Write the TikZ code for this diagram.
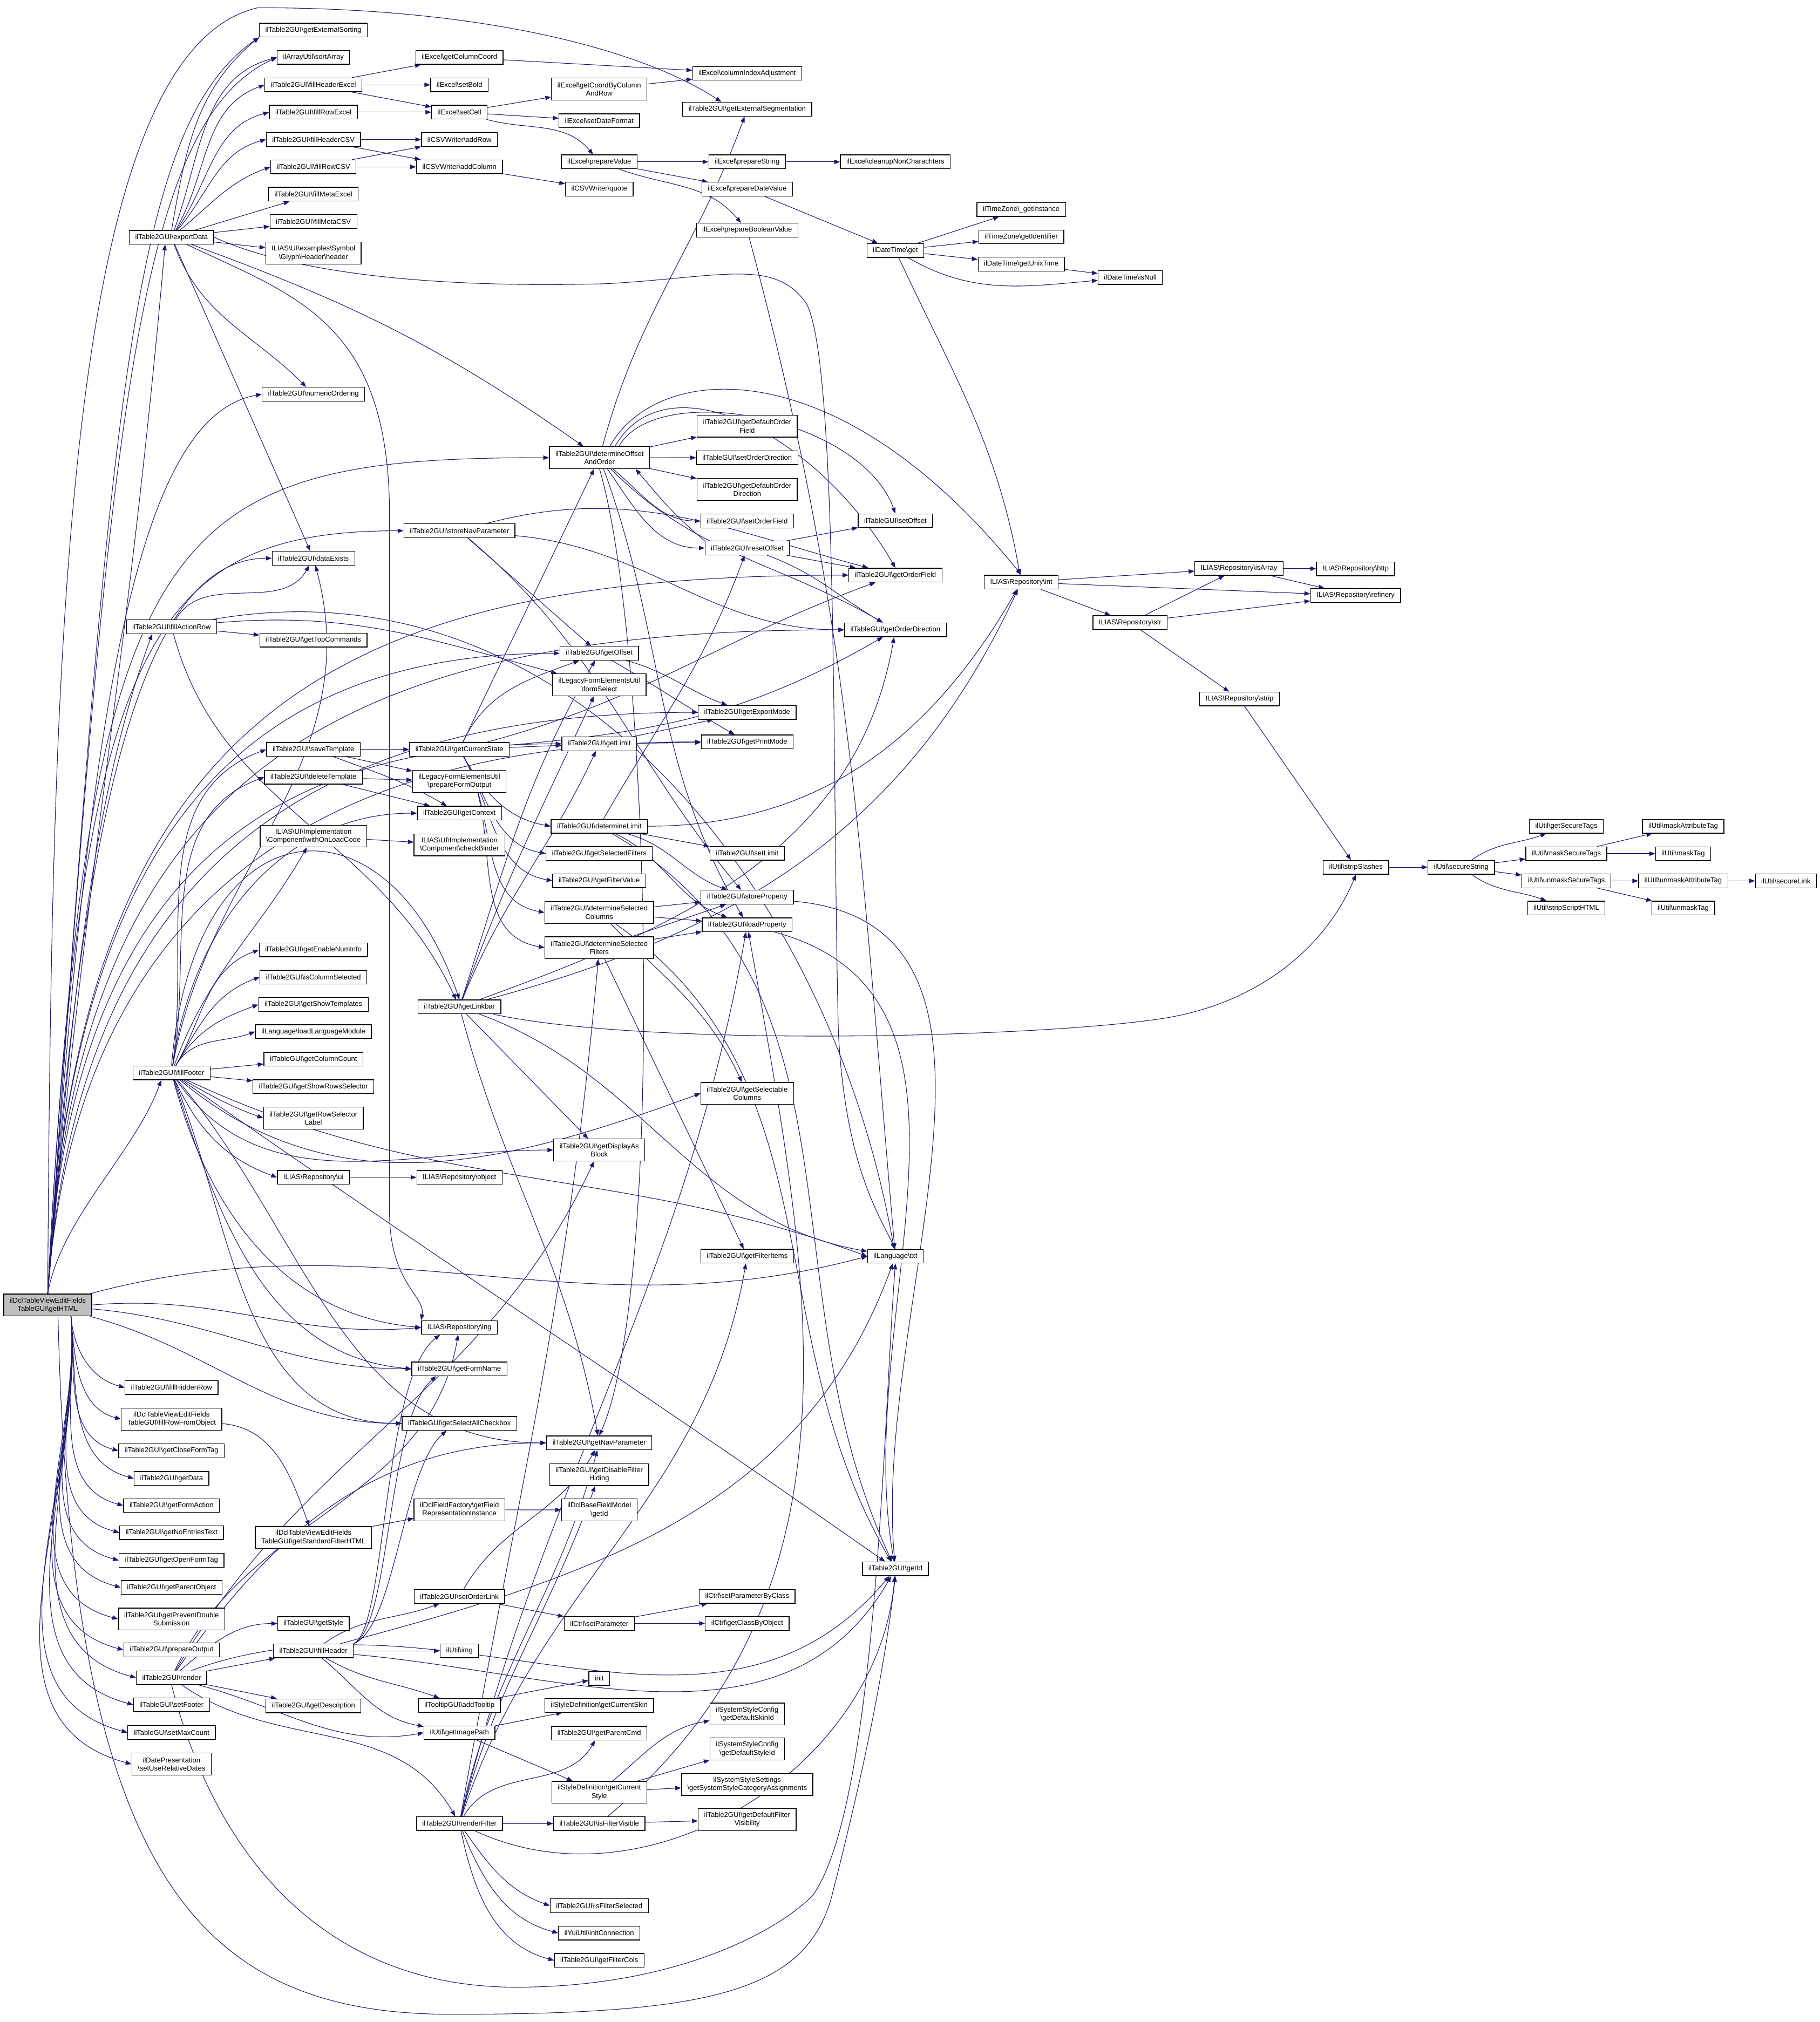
\documentclass[tikz,border=0pt]{standalone}
\usepackage{fontspec}
\setmainfont{Liberation Sans}
\usetikzlibrary{arrows.meta}
\pgfdeclarelayer{bg}
\pgfsetlayers{bg,main}
\definecolor{edgec}{RGB}{25,25,112}
\definecolor{rootfill}{RGB}{191,191,191}
\newcommand{\bsl}{\textbackslash}
\newcommand{\nfs}{\fontsize{5.45pt}{6.4pt}\selectfont}
\begin{document}
\begin{tikzpicture}[x=1pt,y=-1pt,
 nd/.style={draw=black,line width=0.55pt,fill=white,inner xsep=4.6pt,inner ysep=0pt,minimum height=10.7pt,font=\nfs,align=center},
 nd2/.style={nd,minimum height=17pt},
 cx/.style={draw=edgec,line width=0.45pt,-{Triangle[length=4.5pt,width=3.4pt]}}]
\useasboundingbox (0,0) rectangle (1411,1568);
% ---------- nodes ----------
\node[nd2,fill=rootfill] (root) at (37,1012) {ilDclTableViewEditFields\\TableGUI\bsl getHTML};
% column B
\node[nd] (exp) at (133,184) {ilTable2GUI\bsl exportData};
\node[nd] (far) at (133,486) {ilTable2GUI\bsl fillActionRow};
\node[nd] (ffo) at (133,832) {ilTable2GUI\bsl fillFooter};
\node[nd] (fhr) at (133,1076) {ilTable2GUI\bsl fillHiddenRow};
\node[nd2] (frfo) at (133,1100.5) {ilDclTableViewEditFields\\TableGUI\bsl fillRowFromObject};
\node[nd] (gcft) at (133,1125) {ilTable2GUI\bsl getCloseFormTag};
\node[nd] (gdat) at (133,1146.5) {ilTable2GUI\bsl getData};
\node[nd] (gfa) at (133,1167.5) {ilTable2GUI\bsl getFormAction};
\node[nd] (gnet) at (133,1188.5) {ilTable2GUI\bsl getNoEntriesText};
\node[nd] (goft) at (133,1210) {ilTable2GUI\bsl getOpenFormTag};
\node[nd] (gpo) at (133,1231) {ilTable2GUI\bsl getParentObject};
\node[nd2] (gpds) at (133,1255.5) {ilTable2GUI\bsl getPreventDouble\\Submission};
\node[nd] (pout) at (133,1279.5) {ilTable2GUI\bsl prepareOutput};
\node[nd] (rnd) at (133,1301) {ilTable2GUI\bsl render};
\node[nd] (sft) at (133,1322) {ilTableGUI\bsl setFooter};
\node[nd] (smc) at (133,1343.5) {ilTableGUI\bsl setMaxCount};
\node[nd2] (surd) at (133,1368) {ilDatePresentation\\\bsl setUseRelativeDates};
% column C
\node[nd] (ges) at (243,23.3) {ilTable2GUI\bsl getExternalSorting};
\node[nd] (sa) at (243,44.5) {ilArrayUtil\bsl sortArray};
\node[nd] (fhe) at (243,65.8) {ilTable2GUI\bsl fillHeaderExcel};
\node[nd] (fre) at (243,87) {ilTable2GUI\bsl fillRowExcel};
\node[nd] (fhc) at (243,108.2) {ilTable2GUI\bsl fillHeaderCSV};
\node[nd] (frc) at (243,129.4) {ilTable2GUI\bsl fillRowCSV};
\node[nd] (fme) at (243,150.6) {ilTable2GUI\bsl fillMetaExcel};
\node[nd] (fmc) at (243,171.8) {ilTable2GUI\bsl fillMetaCSV};
\node[nd2] (hdr) at (243,196.3) {ILIAS\bsl UI\bsl examples\bsl Symbol\\\bsl Glyph\bsl Header\bsl header};
\node[nd] (num) at (243,305.7) {ilTable2GUI\bsl numericOrdering};
\node[nd] (dex) at (243,432.9) {ilTable2GUI\bsl dataExists};
\node[nd] (gtc) at (243,496.4) {ilTable2GUI\bsl getTopCommands};
\node[nd] (svt) at (243,581.2) {ilTable2GUI\bsl saveTemplate};
\node[nd] (dlt) at (243,602.7) {ilTable2GUI\bsl deleteTemplate};
\node[nd2] (wolc) at (243,648.4) {ILIAS\bsl UI\bsl Implementation\\\bsl Component\bsl withOnLoadCode};
\node[nd] (geni) at (243,736.6) {ilTable2GUI\bsl getEnableNumInfo};
\node[nd] (icsel) at (243,757.7) {ilTable2GUI\bsl isColumnSelected};
\node[nd] (gst) at (243,779) {ilTable2GUI\bsl getShowTemplates};
\node[nd] (llm) at (243,800) {ilLanguage\bsl loadLanguageModule};
\node[nd] (gcol) at (243,821.4) {ilTableGUI\bsl getColumnCount};
\node[nd] (gsrs) at (243,842.7) {ilTable2GUI\bsl getShowRowsSelector};
\node[nd2] (grsl) at (243,867.1) {ilTable2GUI\bsl getRowSelector\\Label};
\node[nd] (ui) at (243,913) {ILIAS\bsl Repository\bsl ui};
\node[nd2] (gsfh) at (243,1192.3) {ilDclTableViewEditFields\\TableGUI\bsl getStandardFilterHTML};
\node[nd] (gsty) at (243,1259) {ilTableGUI\bsl getStyle};
\node[nd] (fhd) at (243,1280.2) {ilTable2GUI\bsl fillHeader};
\node[nd] (gdesc) at (243,1322.8) {ilTable2GUI\bsl getDescription};
% column D
\node[nd] (gcc) at (356.2,44.5) {ilExcel\bsl getColumnCoord};
\node[nd] (sbold) at (356.2,65.8) {ilExcel\bsl setBold};
\node[nd] (scell) at (356.2,87) {ilExcel\bsl setCell};
\node[nd] (arow) at (356.2,108.2) {ilCSVWriter\bsl addRow};
\node[nd] (acol) at (356.2,129.4) {ilCSVWriter\bsl addColumn};
\node[nd] (snp) at (356.2,411.6) {ilTable2GUI\bsl storeNavParameter};
\node[nd] (gcs) at (356.2,581.2) {ilTable2GUI\bsl getCurrentState};
\node[nd2] (pfo) at (356.2,605.9) {ilLegacyFormElementsUtil\\\bsl prepareFormOutput};
\node[nd] (gctx) at (356.2,630.6) {ilTable2GUI\bsl getContext};
\node[nd2] (cbind) at (356.2,655.2) {ILIAS\bsl UI\bsl Implementation\\\bsl Component\bsl checkBinder};
\node[nd] (glb) at (356.2,780.8) {ilTable2GUI\bsl getLinkbar};
\node[nd] (obj) at (356.2,913) {ILIAS\bsl Repository\bsl object};
\node[nd] (lng) at (356.2,1029.4) {ILIAS\bsl Repository\bsl lng};
\node[nd] (gfn) at (356.2,1061.5) {ilTable2GUI\bsl getFormName};
\node[nd] (gsac) at (356.2,1103.8) {ilTableGUI\bsl getSelectAllCheckbox};
\node[nd2] (gfri) at (356.2,1170.8) {ilDclFieldFactory\bsl getField\\RepresentationInstance};
\node[nd] (sol) at (356.2,1238) {ilTable2GUI\bsl setOrderLink};
\node[nd] (img) at (356.2,1280.2) {ilUtil\bsl img};
\node[nd] (atip) at (356.2,1322.5) {ilTooltipGUI\bsl addTooltip};
\node[nd] (gip) at (356.2,1343.7) {ilUtil\bsl getImagePath};
\node[nd] (rf) at (356.2,1414.1) {ilTable2GUI\bsl renderFilter};
% column E
\node[nd2] (gcbc) at (464.6,69.1) {ilExcel\bsl getCoordByColumn\\AndRow};
\node[nd] (sdf) at (464.6,93.7) {ilExcel\bsl setDateFormat};
\node[nd] (pval) at (464.6,125.5) {ilExcel\bsl prepareValue};
\node[nd] (quote) at (464.6,146.7) {ilCSVWriter\bsl quote};
\node[nd2] (doo) at (464.8,354.9) {ilTable2GUI\bsl determineOffset\\AndOrder};
\node[nd] (goff) at (464.6,506.6) {ilTable2GUI\bsl getOffset};
\node[nd2] (fsel) at (464.6,531) {ilLegacyFormElementsUtil\\\bsl formSelect};
\node[nd] (glim) at (464.6,576.8) {ilTable2GUI\bsl getLimit};
\node[nd] (dlim) at (464.6,640.7) {ilTable2GUI\bsl determineLimit};
\node[nd] (gsf) at (464.6,661.9) {ilTable2GUI\bsl getSelectedFilters};
\node[nd] (gfv) at (464.6,683) {ilTable2GUI\bsl getFilterValue};
\node[nd2] (dsc) at (464.6,707.6) {ilTable2GUI\bsl determineSelected\\Columns};
\node[nd2] (dsf) at (464.6,734.9) {ilTable2GUI\bsl determineSelected\\Filters};
\node[nd2] (gdab) at (464.6,891.8) {ilTable2GUI\bsl getDisplayAs\\Block};
\node[nd] (gnp) at (464.6,1118.9) {ilTable2GUI\bsl getNavParameter};
\node[nd2] (gdfh) at (464.6,1143.5) {ilTable2GUI\bsl getDisableFilter\\Hiding};
\node[nd2] (bfid) at (464.6,1170.9) {ilDclBaseFieldModel\\\bsl getId};
\node[nd] (spar) at (464.6,1258.9) {ilCtrl\bsl setParameter};
\node[nd] (init) at (464.6,1301.5) {init};
\node[nd] (gcsk) at (464.6,1322.5) {ilStyleDefinition\bsl getCurrentSkin};
\node[nd] (gpc) at (464.6,1344) {ilTable2GUI\bsl getParentCmd};
\node[nd2] (gcsty) at (464.6,1389.8) {ilStyleDefinition\bsl getCurrent\\Style};
\node[nd] (ifv) at (464.6,1414.1) {ilTable2GUI\bsl isFilterVisible};
\node[nd] (ifs) at (464.6,1477.8) {ilTable2GUI\bsl isFilterSelected};
\node[nd] (icon) at (464.6,1499) {ilYuiUtil\bsl initConnection};
\node[nd] (gfc) at (464.6,1520.2) {ilTable2GUI\bsl getFilterCols};
% column F
\node[nd] (cia) at (579.3,56.9) {ilExcel\bsl columnIndexAdjustment};
\node[nd] (gseg) at (579.3,84.7) {ilTable2GUI\bsl getExternalSegmentation};
\node[nd] (pstr) at (579.3,125.5) {ilExcel\bsl prepareString};
\node[nd] (pdv) at (579.3,146.7) {ilExcel\bsl prepareDateValue};
\node[nd] (pbv) at (579.3,178.5) {ilExcel\bsl prepareBooleanValue};
\node[nd2] (gdof) at (579.3,330.5) {ilTable2GUI\bsl getDefaultOrder\\Field};
\node[nd] (sod) at (579.3,355) {ilTableGUI\bsl setOrderDirection};
\node[nd2] (gdod) at (579.3,379.6) {ilTable2GUI\bsl getDefaultOrder\\Direction};
\node[nd] (sof) at (579.3,404) {ilTable2GUI\bsl setOrderField};
\node[nd] (roff) at (579.3,425) {ilTable2GUI\bsl resetOffset};
\node[nd] (gem) at (579.3,552.4) {ilTable2GUI\bsl getExportMode};
\node[nd] (gpm) at (579.3,575.3) {ilTable2GUI\bsl getPrintMode};
\node[nd] (slim) at (579.3,661.7) {ilTable2GUI\bsl setLimit};
\node[nd] (sprop) at (579.3,695.7) {ilTable2GUI\bsl storeProperty};
\node[nd] (lprop) at (579.3,717.1) {ilTable2GUI\bsl loadProperty};
\node[nd2] (gselc) at (579.3,847.9) {ilTable2GUI\bsl getSelectable\\Columns};
\node[nd] (gfi) at (579.3,974.1) {ilTable2GUI\bsl getFilterItems};
\node[nd] (spbc) at (579.3,1237.9) {ilCtrl\bsl setParameterByClass};
\node[nd] (gcbo) at (579.3,1258.9) {ilCtrl\bsl getClassByObject};
\node[nd2] (gdsk) at (579.3,1329.2) {ilSystemStyleConfig\\\bsl getDefaultSkinId};
\node[nd2] (gdst) at (579.3,1356.3) {ilSystemStyleConfig\\\bsl getDefaultStyleId};
\node[nd2] (gssca) at (579.3,1383.7) {ilSystemStyleSettings\\\bsl getSystemStyleCategoryAssignments};
\node[nd2] (gdfv) at (579.3,1411) {ilTable2GUI\bsl getDefaultFilter\\Visibility};
% column G
\node[nd] (cnc) at (694.2,125.5) {ilExcel\bsl cleanupNonCharachters};
\node[nd] (dtget) at (694.2,194.2) {ilDateTime\bsl get};
\node[nd] (soff) at (694.2,403.8) {ilTableGUI\bsl setOffset};
\node[nd] (gof) at (694.2,446) {ilTable2GUI\bsl getOrderField};
\node[nd] (godir) at (694.2,488.4) {ilTableGUI\bsl getOrderDirection};
\node[nd] (txt) at (694.2,974.2) {ilLanguage\bsl txt};
\node[nd] (gid) at (694.2,1216.6) {ilTable2GUI\bsl getId};
% right part
\node[nd] (tzi) at (791.8,162.5) {ilTimeZone\bsl\_getInstance};
\node[nd] (tzid) at (791.8,183.7) {ilTimeZone\bsl getIdentifier};
\node[nd] (gut) at (791.8,204.8) {ilDateTime\bsl getUnixTime};
\node[nd] (int) at (791.8,451.4) {ILIAS\bsl Repository\bsl int};
\node[nd] (isnull) at (876.3,215.2) {ilDateTime\bsl isNull};
\node[nd] (str) at (876.2,482.8) {ILIAS\bsl Repository\bsl str};
\node[nd] (isarr) at (960.6,440.7) {ILIAS\bsl Repository\bsl isArray};
\node[nd] (strip) at (961,542) {ILIAS\bsl Repository\bsl strip};
\node[nd] (http) at (1051,441.1) {ILIAS\bsl Repository\bsl http};
\node[nd] (ref) at (1051,461.8) {ILIAS\bsl Repository\bsl refinery};
\node[nd] (sslash) at (1051.3,672.5) {ilUtil\bsl stripSlashes};
\node[nd] (sstr) at (1132.9,672.5) {ilUtil\bsl secureString};
\node[nd] (gsect) at (1214.4,640.7) {ilUtil\bsl getSecureTags};
\node[nd] (mst) at (1214.4,662) {ilUtil\bsl maskSecureTags};
\node[nd] (ust) at (1214.4,683.1) {ilUtil\bsl unmaskSecureTags};
\node[nd] (ssh) at (1214.4,704.2) {ilUtil\bsl stripScriptHTML};
\node[nd] (mat) at (1305,640.7) {ilUtil\bsl maskAttributeTag};
\node[nd] (mtag) at (1305,662) {ilUtil\bsl maskTag};
\node[nd] (uat) at (1305,683.1) {ilUtil\bsl unmaskAttributeTag};
\node[nd] (utag) at (1305,704.2) {ilUtil\bsl unmaskTag};
\node[nd] (slink) at (1384.6,683.1) {ilUtil\bsl secureLink};
% ---------- edges ----------
\begin{pgfonlayer}{bg}
\fill[white] (0,0) rectangle (1411,1568);
% root
\draw[cx] (root.north) to[out=85,in=265] ([xshift=-5pt]exp.south);
\draw[cx] (root.north) .. controls +(86:700pt) and +(215:120pt) .. (ges.south west);
\draw[cx] (root.north) .. controls +(86:680pt) and +(205:120pt) .. (sa.west);
\draw[cx] (root.north) .. controls (40,500) and (50,40) .. (200,6) .. controls (380,6) and (500,40) .. ([xshift=-20pt]gseg.north);
\draw[cx] (root.north) .. controls +(86:450pt) and +(190:100pt) .. (num.west);
\draw[cx] (root.north) .. controls +(86:380pt) and +(180:100pt) .. (dex.west);
\draw[cx] (root.north) .. controls +(87:600pt) and +(180:300pt) .. (doo.west);
\draw[cx] (root.north) .. controls +(87:500pt) and +(180:200pt) .. (snp.west);
\draw[cx] (root.north) .. controls +(85:200pt) and +(250:150pt) .. ([xshift=-15pt]far.south);
\draw[cx] (root.north) .. controls +(80:60pt) and +(250:60pt) .. ([xshift=-8pt]ffo.south);
\draw[cx] (root.north) .. controls +(87:350pt) and +(180:250pt) .. (goff.west);
\draw[cx] (root.north) .. controls +(87:300pt) and +(180:250pt) .. (glim.west);
\draw[cx] (root.north) .. controls +(86:330pt) and +(180:300pt) .. (gem.west);
\draw[cx] (root.north) .. controls +(86:300pt) and +(180:300pt) .. (gpm.west);
\draw[cx] (root.north) .. controls +(87:450pt) and +(180:400pt) .. (gof.west);
\draw[cx] (root.north) .. controls +(87:400pt) and +(180:400pt) .. (godir.west);
\foreach \nn in {fhr,frfo,gcft,gdat,gfa,gnet,goft,gpo,gpds,pout,rnd,sft,smc,surd}
  \draw[cx] ([xshift=18pt]root.south) to[out=-85,in=165] (\nn.west);
\draw[cx] (root.east) to[out=5,in=185] (lng.west);
\draw[cx] (root) to[out=-5,in=180] (gfn.west);
\draw[cx] (root) to[out=-15,in=180] (gsac.west);
\draw[cx] (root) to[out=15,in=195] (txt.west);
\draw[cx] ([xshift=8pt]root.south) .. controls (55,1450) and (150,1562) .. (350,1562) .. controls (550,1562) and (625,1545) .. (645,1470) .. controls (668,1380) and (685,1300) .. (gid.south);
% exportData
\draw[cx] (exp.north) to[out=80,in=220] (ges.south west);
\draw[cx] (exp) to[out=70,in=195] (sa.west);
\draw[cx] (exp) to[out=60,in=200] (fhe.west);
\draw[cx] (exp) to[out=55,in=195] (fre.west);
\draw[cx] (exp) to[out=50,in=195] (fhc.west);
\draw[cx] (exp) to[out=40,in=200] (frc.west);
\draw[cx] (exp) -- (fme);
\draw[cx] (exp) -- (fmc);
\draw[cx] (exp) -- (hdr);
\draw[cx] (exp) to[out=-70,in=135] (num);
\draw[cx] (exp) -- (dex);
\draw[cx] (exp) to[out=-20,in=145] (doo);
\draw[cx] (exp) .. controls (230,230) and (302,250) .. (302,400) -- (302,940) .. controls (302,995) and (330,1005) .. (lng.north west);
\draw[cx] (exp.east) .. controls (250,222) and (400,222) .. (470,220) .. controls (560,215) and (600,200) .. (625,235) .. controls (650,280) and (645,600) .. (650,800) .. controls (655,900) and (680,940) .. (txt.north);
% Excel / CSV
\draw[cx] (fhe) -- (gcc);
\draw[cx] (fhe) -- (sbold);
\draw[cx] (fhe) -- (scell);
\draw[cx] (fre) -- (scell);
\draw[cx] (fhc) -- (arow);
\draw[cx] (fhc) -- (acol);
\draw[cx] (frc) -- (arow);
\draw[cx] (frc) -- (acol);
\draw[cx] (gcc) -- (cia);
\draw[cx] (scell) -- (gcbc);
\draw[cx] (scell) -- (sdf);
\draw[cx] (scell) to[out=-15,in=130] (pval);
\draw[cx] (gcbc) -- (cia);
\draw[cx] (acol) -- (quote);
\draw[cx] (pval) -- (pstr);
\draw[cx] (pval) -- (pdv);
\draw[cx] (pval) to[out=-20,in=130] (pbv);
\draw[cx] (pstr) -- (cnc);
\draw[cx] (pdv) -- (dtget);
\draw[cx] (pbv) to[out=-75,in=95] (txt);
\draw[cx] (dtget) -- (tzi);
\draw[cx] (dtget) -- (tzid);
\draw[cx] (dtget) -- (gut);
\draw[cx] (dtget) to[out=-30,in=185] (isnull);
\draw[cx] (dtget) to[out=-65,in=100] (int);
\draw[cx] (gut) -- (isnull);
\draw[cx] (int) -- (isarr);
\draw[cx] (int) -- (ref);
\draw[cx] (int) -- (str);
\draw[cx] (isarr) -- (http);
\draw[cx] (isarr) -- (ref);
\draw[cx] (str) -- (isarr);
\draw[cx] (str) -- (ref);
\draw[cx] (str) -- (strip);
\draw[cx] (strip) -- (sslash);
\draw[cx] (sslash) -- (sstr);
\draw[cx] (sstr) to[out=35,in=200] (gsect);
\draw[cx] (sstr) -- (mst);
\draw[cx] (sstr) -- (ust);
\draw[cx] (sstr) to[out=-35,in=160] (ssh);
\draw[cx] (mst) -- (mat);
\draw[cx] (mst) -- (mtag);
\draw[cx] (ust) -- (uat);
\draw[cx] (ust) -- (utag);
\draw[cx] (uat) -- (slink);
% determineOffsetAndOrder
\draw[cx] (doo) to[out=75,in=250] (gseg);
\draw[cx] (doo) -- (gdof);
\draw[cx] (doo) -- (sod);
\draw[cx] (doo) -- (gdod);
\draw[cx] (doo) to[out=-40,in=180] (sof);
\draw[cx] (doo) to[out=-55,in=180] (roff);
\draw[cx] ([xshift=15pt]doo.north) .. controls +(60:60pt) and +(110:80pt) .. (soff.north);
\draw[cx] ([xshift=12pt]doo.north) .. controls +(60:80pt) and +(120:120pt) .. (gof.north);
\draw[cx] ([xshift=8pt]doo.north) .. controls (510,280) and (650,270) .. (int.north);
\draw[cx] (doo) to[out=-45,in=150] (godir);
\draw[cx] (doo.south) .. controls (505,500) and (515,1000) .. (gnp.north);
\draw[cx] (doo) to[out=-70,in=120] (lprop);
\draw[cx] (roff) -- (soff);
\draw[cx] (roff) -- (gof);
\draw[cx] (roff) to[out=-20,in=150] (godir);
\draw[cx] (roff.north west) to[out=140,in=-50] ([xshift=28pt]doo.south);
% storeNavParameter
\draw[cx] (snp) -- (goff);
\draw[cx] (snp) to[out=15,in=165] (gof);
\draw[cx] (snp) to[out=-5,in=180] (godir);
\draw[cx] (snp) to[out=-40,in=130] (sprop);
% fillActionRow
\draw[cx] (far) to[out=60,in=-120] (dex);
\draw[cx] (far) -- (gtc);
\draw[cx] (far) to[out=5,in=165] (fsel);
\draw[cx] (far) to[out=-75,in=115] (glb);
\draw[cx] (far) to[out=10,in=100] (txt);
% getCurrentState
\draw[cx] (gcs) -- (doo);
\draw[cx] (gcs) to[out=65,in=200] (goff);
\draw[cx] (gcs) -- (glim);
\draw[cx] (gcs) to[out=15,in=200] (gof);
\draw[cx] (gcs) to[out=5,in=210] (godir);
\foreach \nn in {dlim,gsf,gfv,dsc,dsf}
  \draw[cx] (gcs) to[out=-60,in=170] (\nn.west);
\draw[cx] (svt) -- (gcs);
\draw[cx] (svt) -- (pfo);
\draw[cx] (svt) to[out=-20,in=150] (gctx);
\draw[cx] (dlt) -- (pfo);
\draw[cx] (dlt) -- (gctx);
% fillFooter
\draw[cx] (ffo) to[out=80,in=-75] (dex);
\draw[cx] (ffo) to[out=82,in=200] (svt.west);
\draw[cx] (ffo) to[out=80,in=200] (dlt.west);
\draw[cx] (ffo) to[out=82,in=180] (gctx.west);
\draw[cx] (ffo) to[out=70,in=-120] (wolc);
\foreach \nn in {geni,icsel,gst,llm}
  \draw[cx] (ffo) to[out=60,in=200] (\nn.west);
\draw[cx] (ffo) -- (gcol);
\draw[cx] (ffo) -- (gsrs);
\draw[cx] (ffo) to[out=-30,in=160] (grsl.west);
\draw[cx] (ffo) to[out=-55,in=180] (gdab.west);
\draw[cx] (ffo) to[out=-65,in=160] (ui.west);
\draw[cx] (ffo.north) .. controls (150,620) and (300,610) .. (glb.north);
\draw[cx] (ffo) to[out=-40,in=200] (gselc.west);
\draw[cx] (ffo) to[out=-25,in=160] (txt.west);
\draw[cx] (ffo) to[out=-75,in=175] (lng.west);
\draw[cx] (ffo) to[out=-72,in=175] (gfn.west);
\draw[cx] (ffo) to[out=-68,in=180] (gsac.west);
\draw[cx] (ffo) to[out=-50,in=180] (gnp.west);
\draw[cx] (ffo) to[out=-35,in=145] (gid);
\draw[cx] (wolc) -- (cbind);
\draw[cx] (ui) -- (obj);
% getLinkbar
\draw[cx] (glb) to[out=70,in=-115] (fsel);
\draw[cx] (glb) to[out=72,in=-120] (goff);
\draw[cx] (glb) to[out=68,in=-115] (glim);
\draw[cx] (glb) to[out=20,in=-100] (godir);
\draw[cx] (glb) to[out=15,in=-115] (int);
\draw[cx] (glb) to[out=-75,in=100] (gnp);
\draw[cx] (glb) -- (gdab);
\draw[cx] (glb) to[out=-20,in=170] (txt);
\draw[cx] (glb) .. controls (500,812) and (800,805) .. (900,790) .. controls (980,778) and (1030,730) .. (sslash.south);
% offset / limit
\draw[cx] (goff) to[out=-15,in=160] (gem);
\draw[cx] (goff) to[out=-30,in=150] (gpm);
\draw[cx] (glim) -- (gem);
\draw[cx] (glim) -- (gpm);
\draw[cx] (dlim) to[out=60,in=-110] (roff);
\draw[cx] (dlim) -- (slim);
\draw[cx] (dlim) to[out=-15,in=160] (sprop);
\draw[cx] (dlim) to[out=-25,in=160] (lprop);
\draw[cx] (dlim) to[out=0,in=-120] (int);
\draw[cx] (dlim) to[out=-30,in=115] (gid);
\draw[cx] (dsc) -- (sprop);
\draw[cx] (dsc) -- (lprop);
\draw[cx] (dsc) to[out=-45,in=115] (gselc);
\draw[cx] (dsc) to[out=-35,in=120] (gid);
\draw[cx] (dsf) -- (sprop);
\draw[cx] (dsf) -- (lprop);
\draw[cx] (dsf) -- (gfi);
\draw[cx] (sprop) to[out=-5,in=95] (gid);
\draw[cx] (lprop) to[out=-15,in=100] (gid);
% dcl
\draw[cx] (frfo) to[out=-5,in=110] (gsfh);
\draw[cx] (gsfh) -- (gfri);
\draw[cx] (gfri) -- (bfid);
% render
\draw[cx] (rnd) to[out=40,in=180] (gsty.west);
\draw[cx] (rnd) -- (fhd);
\draw[cx] (rnd) -- (gdesc);
\draw[cx] (rnd) to[out=-15,in=190] (gip.west);
\draw[cx] (rnd) to[out=-35,in=120] (rf);
\draw[cx] (rnd) to[out=60,in=-115] (gdab);
\draw[cx] (rnd) to[out=55,in=180] (gnp.west);
\draw[cx] (rnd) to[out=65,in=-100] (lng);
\draw[cx] (rnd) to[out=20,in=-130] (gid);
\draw[cx] (rnd.south) .. controls (170,1450) and (260,1541) .. (400,1541) .. controls (520,1541) and (600,1500) .. (630,1470) .. controls (680,1400) and (685,1100) .. (txt.south);
% fillHeader
\draw[cx] (fhd) to[out=35,in=200] (sol);
\draw[cx] (fhd) -- (img);
\draw[cx] (fhd) to[out=-30,in=160] (atip);
\draw[cx] (fhd) to[out=-40,in=170] (gip);
\draw[cx] (fhd.north east) .. controls (300,1262) and (296,1070) .. ([xshift=-15pt]lng.south);
\draw[cx] (fhd.north east) .. controls (303,1262) and (300,1100) .. ([xshift=-18pt]gfn.south);
\draw[cx] (fhd.north east) .. controls (306,1262) and (312,1140) .. ([xshift=-10pt]gsac.south);
\draw[cx] (fhd) to[out=-5,in=-120] (gid);
\draw[cx] (fhd) to[out=15,in=-110] (txt);
\draw[cx] (sol) to[out=60,in=-120] (gnp);
\draw[cx] (sol) -- (spar);
\draw[cx] (spar) -- (spbc);
\draw[cx] (spar) -- (gcbo);
\draw[cx] (atip) -- (init);
\draw[cx] (gip) -- (gcsk);
\draw[cx] (gip) -- (gcsty);
\draw[cx] (gcsty) to[out=40,in=190] (gdsk);
\draw[cx] (gcsty) -- (gdst);
\draw[cx] (gcsty) -- (gssca);
% renderFilter
\draw[cx] (rf) to[out=60,in=-120] (gpc);
\draw[cx] (rf) -- (ifv);
\draw[cx] (rf) to[out=-55,in=160] (ifs.west);
\draw[cx] (rf) to[out=-68,in=165] (icon.west);
\draw[cx] (rf) to[out=-78,in=165] (gfc.west);
\draw[cx] (rf) to[out=75,in=-110] (gdfh);
\draw[cx] (rf) to[out=78,in=-105] (gnp);
\draw[cx] (rf) to[out=72,in=-100] (gfi);
\draw[cx] (rf) to[out=80,in=-95] (dsf);
\draw[cx] (rf) to[out=76,in=-100] (lprop);
\draw[cx] (rf) to[out=-25,in=-95] (gid);
\draw[cx] (ifv) -- (gdfv);
\draw[cx] (ifv) to[out=40,in=-80] (lprop);
\end{pgfonlayer}
\end{tikzpicture}
\end{document}
